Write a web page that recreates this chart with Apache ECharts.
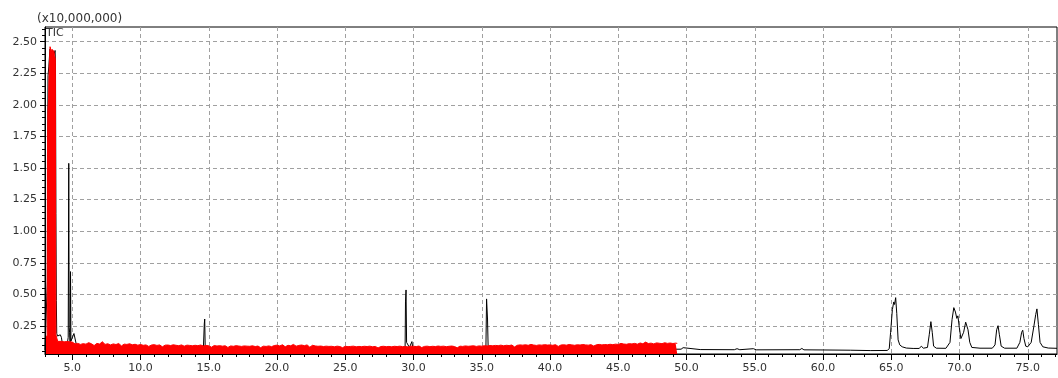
<!DOCTYPE html>
<html>
<head>
<meta charset="utf-8">
<script src="https://cdn.jsdelivr.net/npm/echarts@6.0.0/dist/echarts.min.js"></script>
<style>
html,body{margin:0;padding:0;background:#fff;}
#chart{width:1058px;height:378px;}
</style>
</head>
<body>
<div id="chart"></div>
<script>
// Axis tick labels (retention time in minutes, intensity in units of 10,000,000)
const xTickLabels = ['5.0','10.0','15.0','20.0','25.0','30.0','35.0','40.0','45.0','50.0','55.0','60.0','65.0','70.0','75.0'];
const yTickLabels = ['0.25','0.50','0.75','1.00','1.25','1.50','1.75','2.00','2.25','2.50'];
const xRange = [3.0, 77.14];
const yRange = [0.028, 2.616];

// TIC trace: [time, intensity]
const ticPoints = [
  [3.00,0.060],[3.14,0.065],[3.17,0.60],[3.20,1.70],[3.22,2.23],[3.28,2.30],[3.36,2.44],[3.46,2.41],
  [3.56,2.43],[3.66,2.40],[3.74,2.43],[3.77,2.30],[3.80,1.14],[3.83,0.45],[3.86,0.19],[3.92,0.17],
  [3.98,0.18],[4.05,0.175],[4.12,0.18],[4.20,0.16],[4.26,0.12],[4.40,0.10],[4.62,0.10],[4.70,0.16],
  [4.74,1.537],[4.77,0.24],[4.80,0.20],[4.84,0.12],[4.87,0.68],[4.90,0.13],[5.00,0.12],[5.12,0.19],
  [5.20,0.18],[5.30,0.10],[6.00,0.07],[10.0,0.060],[14.60,0.060],[14.67,0.266],[14.70,0.305],[14.74,0.060],
  [20.0,0.055],[29.38,0.055],[29.41,0.44],[29.45,0.535],[29.49,0.12],[29.70,0.08],[29.88,0.126],[29.95,0.07],
  [35.30,0.060],[35.35,0.464],[35.42,0.305],[35.47,0.060],[45.0,0.062],[49.30,0.066],[49.60,0.066],[49.75,0.078],
  [49.85,0.064],[51.0,0.063],[53.5,0.062],[53.7,0.070],[53.9,0.062],[54.9,0.070],[55.1,0.061],[58.3,0.062],
  [58.45,0.072],[58.6,0.061],[60.0,0.060],[62.0,0.058],[63.5,0.055],[64.7,0.056],[64.85,0.070],[64.95,0.20],
  [65.08,0.38],[65.18,0.44],[65.24,0.42],[65.32,0.474],[65.40,0.35],[65.50,0.14],[65.62,0.10],[65.80,0.085],
  [66.1,0.075],[66.6,0.072],[67.05,0.072],[67.2,0.090],[67.35,0.074],[67.65,0.080],[67.78,0.18],[67.90,0.284],
  [68.0,0.20],[68.1,0.09],[68.3,0.074],[69.0,0.073],[69.3,0.12],[69.45,0.30],[69.58,0.395],[69.70,0.36],
  [69.80,0.31],[69.88,0.33],[69.98,0.24],[70.10,0.15],[70.30,0.20],[70.45,0.28],[70.52,0.295],[70.62,0.22],
  [70.75,0.12],[70.9,0.080],[71.5,0.074],[72.4,0.074],[72.6,0.10],[72.72,0.22],[72.82,0.252],[72.92,0.18],
  [73.05,0.09],[73.3,0.074],[74.2,0.074],[74.42,0.12],[74.55,0.20],[74.63,0.216],[74.72,0.15],[74.85,0.09],
  [75.0,0.085],[75.25,0.12],[75.45,0.25],[75.58,0.34],[75.67,0.385],[75.78,0.26],[75.9,0.12],[76.1,0.085],
  [76.5,0.075],[77.14,0.073]
];

// Highlighted region: solvent peak followed by the noisy band up to 49.3 min
const redPeak = [
  [3.00,0.165],[3.10,0.168],[3.16,0.170],[3.18,1.60],[3.21,1.95],[3.26,2.05],[3.31,2.30],[3.37,2.46],
  [3.42,2.45],[3.47,2.42],[3.52,2.44],[3.58,2.41],[3.64,2.43],[3.70,2.39],[3.76,2.36],[3.78,0.90],
  [3.80,0.18],[3.88,0.170],[3.93,0.128]
];
const noiseStart = 4.0;
const noiseStep = 0.2;
const redNoise = [
  0.126,0.128,0.124,0.127,0.125,0.122,0.108,0.112,0.104,0.110,
  0.106,0.118,0.109,0.095,0.112,0.107,0.125,0.104,0.109,0.100,
  0.108,0.103,0.111,0.092,0.106,0.104,0.109,0.101,0.105,0.098,
  0.103,0.097,0.100,0.088,0.099,0.102,0.096,0.100,0.085,0.098,
  0.099,0.095,0.101,0.097,0.094,0.100,0.090,0.098,0.096,0.093,
  0.097,0.094,0.099,0.092,0.096,0.093,0.082,0.095,0.091,0.094,
  0.090,0.093,0.080,0.092,0.089,0.094,0.091,0.088,0.092,0.090,
  0.089,0.093,0.087,0.091,0.078,0.090,0.088,0.092,0.086,0.095,
  0.098,0.092,0.101,0.085,0.097,0.093,0.104,0.090,0.096,0.099,
  0.094,0.100,0.082,0.097,0.092,0.089,0.091,0.087,0.090,0.088,
  0.089,0.085,0.090,0.087,0.078,0.089,0.086,0.088,0.090,0.085,
  0.088,0.086,0.089,0.087,0.090,0.085,0.088,0.076,0.087,0.089,
  0.086,0.088,0.085,0.089,0.087,0.090,0.086,0.088,0.084,0.090,
  0.089,0.087,0.091,0.079,0.088,0.090,0.086,0.089,0.087,0.091,
  0.088,0.090,0.086,0.089,0.091,0.087,0.077,0.090,0.088,0.092,
  0.089,0.091,0.093,0.088,0.092,0.090,0.094,0.092,0.095,0.093,
  0.096,0.094,0.098,0.093,0.097,0.095,0.099,0.084,0.097,0.100,
  0.098,0.101,0.097,0.104,0.099,0.096,0.100,0.098,0.102,0.099,
  0.100,0.097,0.102,0.088,0.099,0.101,0.098,0.103,0.100,0.097,
  0.101,0.099,0.103,0.100,0.098,0.102,0.091,0.101,0.104,0.100,
  0.103,0.101,0.105,0.102,0.106,0.104,0.112,0.107,0.105,0.110,
  0.108,0.112,0.106,0.115,0.109,0.122,0.111,0.114,0.108,0.116,
  0.113,0.110,0.117,0.112,0.115,0.111,0.114
];
const redEnd = [[49.32,0.112]];

const redPoints = redPeak
  .concat(redNoise.map((v, i) => [+(noiseStart + i * noiseStep).toFixed(2), v]))
  .concat(redEnd);

const xMajor = xTickLabels.map(Number);
const yMajor = yTickLabels.map(Number);
const xMinor = [];
for (let t = Math.ceil(xRange[0]); t <= Math.floor(xRange[1]); t++) {
  if (t % 5 !== 0) xMinor.push(t);
}
const yMinor = [];
for (let k = 1; k * 0.05 <= yRange[1]; k++) {
  if (k % 5 !== 0) yMinor.push(+(k * 0.05).toFixed(2));
}

const FONT = '"DejaVu Sans", sans-serif';
const gridDash = { color: '#a0a0a0', width: 1, type: [4, 3] };

const chart = echarts.init(document.getElementById('chart'), null, { renderer: 'canvas' });
chart.setOption({
  animation: false,
  backgroundColor: '#fff',
  grid: { left: 45, top: 27, right: 1, bottom: 24, show: true, borderColor: '#000', borderWidth: 1, backgroundColor: 'transparent' },
  xAxis: [
    {
      type: 'value', min: xRange[0], max: xRange[1],
      axisLine: { show: false },
      axisTick: { show: true, length: 6, customValues: xMajor, lineStyle: { color: '#000' } },
      axisLabel: { show: true, customValues: xMajor, formatter: v => v.toFixed(1), margin: 9, color: '#333', fontFamily: FONT, fontSize: 11 },
      splitLine: { show: true, lineStyle: gridDash }
    },
    {
      type: 'value', min: xRange[0], max: xRange[1], position: 'bottom', z: 10,
      axisLine: { show: true, lineStyle: { color: '#000', width: 1 } },
      axisTick: { show: true, length: 3, customValues: xMinor, lineStyle: { color: '#000' } },
      axisLabel: { show: false },
      splitLine: { show: false }
    }
  ],
  yAxis: [
    {
      type: 'value', min: yRange[0], max: yRange[1], position: 'left',
      axisLine: { show: false },
      axisTick: { show: true, length: 5, customValues: yMajor, lineStyle: { color: '#000' } },
      axisLabel: { show: true, customValues: yMajor, formatter: v => v.toFixed(2), margin: 8, color: '#333', fontFamily: FONT, fontSize: 11 },
      splitLine: { show: true, lineStyle: gridDash }
    },
    {
      type: 'value', min: yRange[0], max: yRange[1], position: 'left', z: 10,
      axisLine: { show: true, lineStyle: { color: '#000', width: 1 } },
      axisTick: { show: true, length: 3, customValues: yMinor, lineStyle: { color: '#000' } },
      axisLabel: { show: false },
      splitLine: { show: false }
    }
  ],
  graphic: [
    { type: 'text', left: 37, top: 13, style: { text: '(x10,000,000)', font: '12px ' + FONT, fill: '#333' } },
    { type: 'text', left: 46, top: 28, z: 20, style: { text: 'TIC', font: '11px ' + FONT, fill: '#333' } }
  ],
  series: [
    {
      name: 'TIC', type: 'line', xAxisIndex: 0, yAxisIndex: 0, z: 2,
      data: ticPoints, showSymbol: false, symbol: 'none', smooth: false,
      lineStyle: { color: '#000', width: 1 }
    },
    {
      name: 'Region', type: 'line', xAxisIndex: 0, yAxisIndex: 0, z: 3,
      data: redPoints, showSymbol: false, symbol: 'none', smooth: false,
      lineStyle: { color: '#ff0000', width: 1 },
      areaStyle: { color: '#ff0000', opacity: 1, origin: 'start' }
    }
  ]
});
</script>
</body>
</html>
